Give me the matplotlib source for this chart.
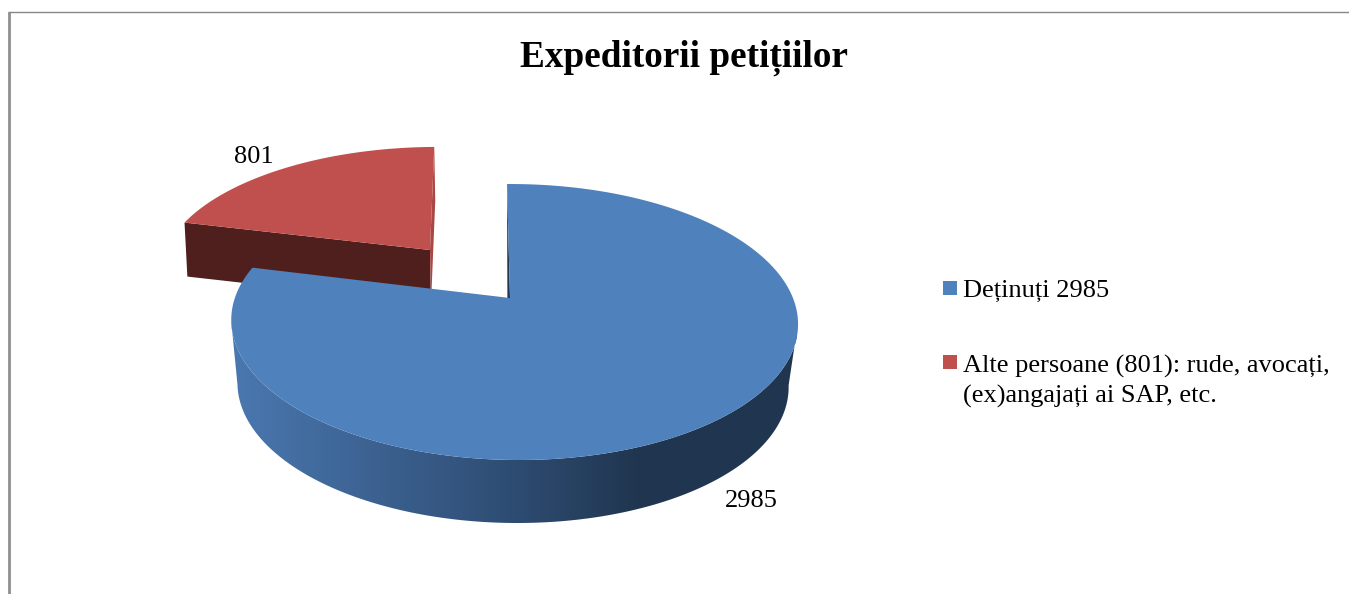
import numpy as np
import matplotlib
matplotlib.use('Agg')
import matplotlib.pyplot as plt
from matplotlib.colors import LinearSegmentedColormap
from matplotlib.patches import Polygon, Rectangle

plt.rcParams['font.family'] = ['Liberation Serif', 'DejaVu Serif']

title = 'Expeditorii petițiilor'
values = [2985, 801]
value_labels = ['2985', '801']
legend_labels = ['Deținuți 2985', 'Alte persoane (801): rude, avocați,\n(ex)angajați ai SAP, etc.']

BLUE = '#4f81bd'
RED = '#c0504d'

fig = plt.figure(figsize=(13.49, 5.94), dpi=100)
ax = fig.add_axes([0, 0, 1, 1])
ax.set_xlim(0, 1349)
ax.set_ylim(594, 0)
ax.axis('off')


# flat circle seen in perspective, angle clockwise from the top
def rim(theta, cx, cy, a, b, s):
    u, v = np.sin(theta), np.cos(theta)
    den = 1 + 0.174 * v - 0.014 * u
    return cx + (a * u + s * v) / den, cy - b * v / den


def wedge(start, end, cx, cy, a, b, s):
    t = np.linspace(start, end, 300)
    x, y = rim(t, cx, cy, a, b, s)
    return np.column_stack([np.r_[cx, x], np.r_[cy, y]])


# angles come from the values
split = 2 * np.pi * values[0] / sum(values)
full = 2 * np.pi

# frame
ax.plot([8.5, 8.5], [11.5, 594], color='#8f8f8f', lw=2.0, solid_capstyle='butt')
ax.plot([7.5, 1349], [11.5, 11.5], color='#868686', lw=1.0, solid_capstyle='butt')

# red slice, pulled out
red_top = (430, 250, 268, 121, 5)
red_low = (431, 304, 266, 121, 5)
apex_t = (red_top[0], red_top[1])
apex_l = (red_low[0], red_low[1])
ax.add_patch(Polygon([rim(split, *red_top), apex_t, apex_l, rim(split, *red_low)], fc='#4f1f1e', ec='none'))
ax.add_patch(Polygon([apex_t, rim(full, *red_top), rim(full, *red_low), apex_l], fc='#a94744', ec='none'))
ax.add_patch(Polygon(wedge(split, full, *red_top), fc=RED, ec='none'))

# blue slice, side first with a left to right shading
blue_top = (510, 298, 279, 133.8, -3.5)
blue_low = (508.5, 361, 271.3, 133.8, -3.5)
side = LinearSegmentedColormap.from_list('side', [(0, '#4a78b0'), (0.5, '#2e4c72'), (0.72, '#203650'), (1, '#203650')])
# from the widest point on the right, round the front, to the widest on the left
t = np.linspace(np.pi / 2 + 0.175, 3 * np.pi / 2 - 0.175, 300)
xa, ya = rim(t, *blue_top)
xb, yb = rim(t[::-1], *blue_low)
side_poly = Polygon(np.column_stack([np.r_[xa, xb], np.r_[ya, yb]]), fc='none', ec='none')
ax.add_patch(side_poly)
im = ax.imshow(np.linspace(0, 1, 256).reshape(1, -1), extent=[231, 797, 594, 0], cmap=side, aspect='auto', zorder=1)
im.set_clip_path(side_poly)
ax.set_xlim(0, 1349)
ax.set_ylim(594, 0)
xt, yt = rim(0, *blue_top)
ax.add_patch(Polygon([(xt, yt), (blue_top[0], blue_top[1]), (blue_top[0] - 2.6, blue_top[1])],
                     fc='#203650', ec='none', zorder=2))
ax.add_patch(Polygon(wedge(0, split, *blue_top), fc=BLUE, ec='none', zorder=2))

# texts
ax.text(684, 58, title, fontsize=26.8, fontweight='bold', ha='center', va='center')
ax.text(254, 157, value_labels[1], fontsize=19, ha='center', va='center')
ax.text(751, 501, value_labels[0], fontsize=19, ha='center', va='center')

# legend
ax.add_patch(Rectangle((943, 280.5), 14, 14, fc=BLUE, ec='none'))
ax.add_patch(Rectangle((943, 355), 14, 14, fc=RED, ec='none'))
ax.text(963, 291, legend_labels[0], fontsize=19, ha='left', va='center')
ax.text(963, 381, legend_labels[1], fontsize=19, ha='left', va='center', linespacing=1.39)

plt.savefig('out.png', dpi=100)
plt.close()
